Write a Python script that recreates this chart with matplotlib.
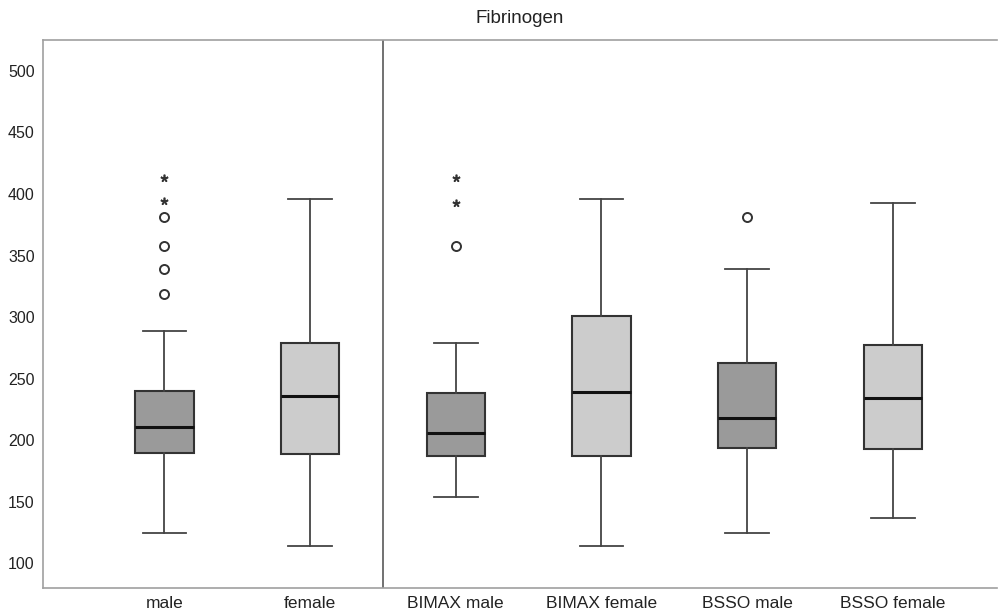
import matplotlib
matplotlib.use("Agg")
import matplotlib.pyplot as plt

plt.rcParams['font.family'] = ['Liberation Sans', 'DejaVu Sans']

categories = ["male", "female", "BIMAX male", "BIMAX female", "BSSO male", "BSSO female"]
whisker_low = [125, 114, 154, 114, 125, 137]
q1 = [190, 189, 187, 187, 194, 193]
median = [211, 236, 206, 239, 218, 234]
q3 = [240, 279, 238, 301, 263, 277]
whisker_high = [289, 396, 279, 396, 339, 393]
circle_outliers = [[319, 339, 358, 381], [], [358], [], [381], []]
star_outliers = [[394, 413], [], [393, 413], [], [], []]
yticks = [100, 150, 200, 250, 300, 350, 400, 450, 500]

box_colors = ["#9a9a9a", "#cccccc", "#9a9a9a", "#cccccc", "#9a9a9a", "#cccccc"]

fig = plt.figure(figsize=(10.02, 6.15), dpi=100)
ax = fig.add_axes([43/1002, 1-588/615, (997-43)/1002, (588-40)/615])

stats = []
for i, c in enumerate(categories):
    stats.append(dict(label=c, whislo=whisker_low[i], q1=q1[i], med=median[i],
                      q3=q3[i], whishi=whisker_high[i], fliers=[]))

positions = list(range(len(categories)))
bp = ax.bxp(stats, positions=positions, widths=0.4, patch_artist=True,
            showfliers=False,
            boxprops=dict(edgecolor="#333333", linewidth=1.5),
            medianprops=dict(color="#111111", linewidth=2.2),
            whiskerprops=dict(color="#444444", linewidth=1.3),
            capprops=dict(color="#444444", linewidth=1.3),
            capwidths=0.3)
for patch, col in zip(bp['boxes'], box_colors):
    patch.set_facecolor(col)

for i in positions:
    if circle_outliers[i]:
        ax.plot([i]*len(circle_outliers[i]), circle_outliers[i], linestyle='none',
                marker='o', markersize=6.5, markerfacecolor='white',
                markeredgecolor='#333333', markeredgewidth=1.4)
    if star_outliers[i]:
        ax.plot([i]*len(star_outliers[i]), star_outliers[i], linestyle='none',
                marker=(5, 2, 0), markersize=5.5, color='#333333',
                markeredgewidth=1.2)

ax.axvline(1.5, color="#666666", linewidth=1.3)

ax.set_xlim(-0.833, 5.715)
ax.set_ylim(80, 525)
ax.set_yticks(yticks)
ax.set_yticklabels([str(v) for v in yticks])
ax.set_xticks(positions)
ax.set_xticklabels(categories)
ax.tick_params(axis='both', length=0, colors='#222222')
ax.tick_params(axis='y', pad=6, labelsize=11.5)
ax.tick_params(axis='x', pad=6, labelsize=12.5)
for s in ['left', 'top', 'bottom']:
    ax.spines[s].set_color('#a0a0a0')
    ax.spines[s].set_linewidth(1.2)
ax.spines['right'].set_visible(False)

ax.set_title("Fibrinogen", fontsize=13.5, color='#222222', pad=12)

fig.savefig("out.png", dpi=100)
